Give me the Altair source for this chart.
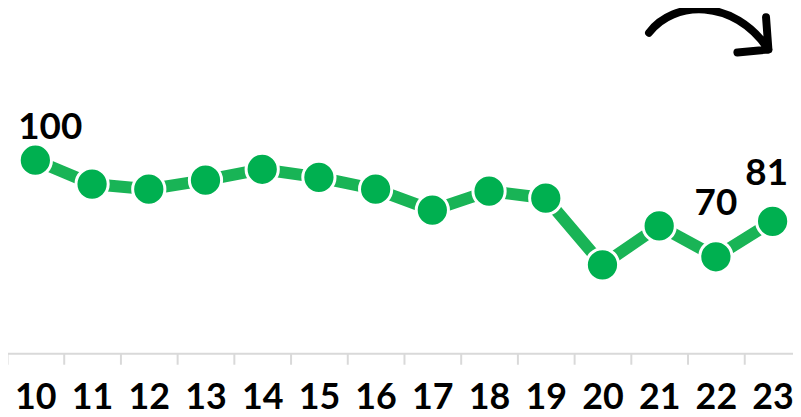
import altair as alt
import pandas as pd

months = ["10", "11", "12", "13", "14", "15", "16", "17", "18", "19", "20", "21", "22", "23"]
values = [100, 92.6, 91.0, 93.8, 97.2, 94.7, 91.0, 84.5, 90.4, 88.2, 67.5, 79.6, 70, 81]

arrow_anchor_month = ["22"]
arrow_anchor_value = [140]

df = pd.DataFrame({"m": months, "v": values})
arrow_df = pd.DataFrame({"m": arrow_anchor_month, "v": arrow_anchor_value})

FONT = "Lato, sans-serif"
POINT = "#00B050"
LINE = "#19B456"

x = alt.X(
    "m:N",
    sort=months,
    scale=alt.Scale(type="band", paddingInner=0, paddingOuter=0, domain=months),
    axis=alt.Axis(
        title=None,
        labelAngle=0,
        domainColor="#d9d9d9",
        domainWidth=2,
        tickColor="#d9d9d9",
        tickWidth=2,
        tickSize=11,
        tickBand="extent",
        labelFont=FONT,
        labelFontSize=36,
        labelFontWeight="bold",
        labelColor="black",
        labelBaseline="alphabetic",
        labelPadding=45,
        grid=False,
    ),
)
y = alt.Y("v:Q", scale=alt.Scale(domain=[40, 147], nice=False, zero=False), axis=None)

base = alt.Chart(df).encode(x=x, y=y)

line = base.mark_line(color=LINE, strokeWidth=12)
points = base.mark_point(
    filled=True, shape="circle", size=1050, color=POINT, opacity=1,
    stroke="white", strokeWidth=3,
)

def label(month, dx, dy):
    return base.transform_filter(alt.datum.m == month).mark_text(
        font=FONT, fontSize=37, fontWeight="bold", color="black",
        baseline="alphabetic", align="center", dx=dx, dy=dy,
    ).encode(text=alt.Text("v:Q", format=".0f"))

labels = label("10", 15, -21) + label("22", 0, -42) + label("23", -6, -37)

arrow_path = "M -1.12 0.02 C -0.72 -0.52 0.3 -0.57 0.88 0.3 M 0.84 -0.24 L 0.88 0.3 L 0.36 0.35"
arrow = alt.Chart(arrow_df).mark_point(
    shape=arrow_path, size=14400, filled=False, stroke="black", strokeWidth=8,
    strokeCap="round", strokeJoin="round", opacity=1,
).encode(x=alt.X("m:N", sort=months), y=alt.Y("v:Q"))

chart = alt.layer(line, points, labels, arrow).properties(
    width=798,
    height=346,
    autosize=alt.AutoSizeParams(type="none"),
    padding={"left": -1, "top": 0, "right": -8, "bottom": 62},
).configure_view(stroke=None)

chart.save("out.html", embed_options={"renderer": "svg", "actions": False})
